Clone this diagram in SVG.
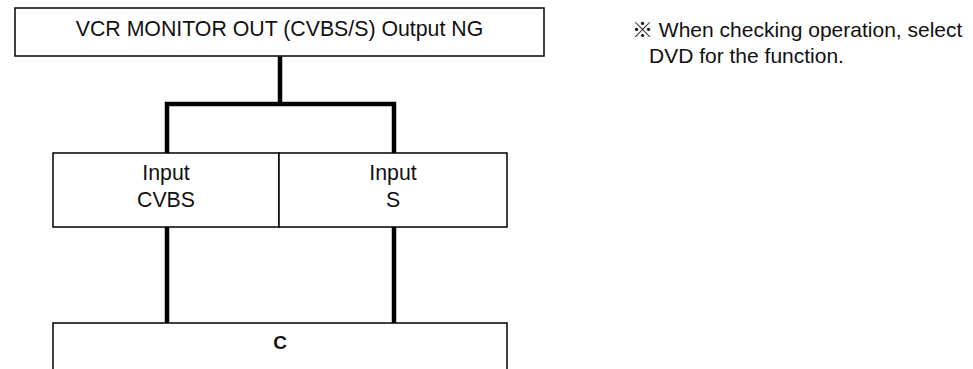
<svg xmlns="http://www.w3.org/2000/svg" width="973" height="369" viewBox="0 0 973 369">
<style>
.box{fill:#fff;stroke:#000;stroke-width:1.5}
.t{font-family:"Liberation Sans",Arial,"Noto Sans CJK JP",sans-serif;font-size:21.3px;fill:#111;text-anchor:middle}
.b{font-weight:bold;font-size:19px}
.note{font-family:"Liberation Sans",Arial,"Noto Sans CJK JP",sans-serif;font-size:21px;fill:#111}
.c{fill:none;stroke:#000;stroke-width:4.5;stroke-linecap:butt;stroke-linejoin:miter}
</style>
<rect width="973" height="369" fill="#fff"/>
<g id="connectors">
<path class="c" d="M280 56 V104 M167 153 V104 H394 V153"/>
<path class="c" d="M167 227 V323"/>
<path class="c" d="M394 227 V323"/>
</g>
<g id="top">
<rect class="box" x="15" y="8" width="529" height="48"/>
<text class="t" x="279.5" y="36">VCR MONITOR OUT (CVBS/S) Output NG</text>
</g>
<g id="input-cvbs">
<rect class="box" x="53" y="153" width="226" height="74"/>
<text class="t" x="166" y="180">Input</text>
<text class="t" x="166" y="207">CVBS</text>
</g>
<g id="input-s">
<rect class="box" x="279" y="153" width="228" height="74"/>
<text class="t" x="393" y="180">Input</text>
<text class="t" x="393" y="207">S</text>
</g>
<g id="c">
<rect class="box" x="53" y="323" width="454" height="60"/>
<text class="t b" x="280" y="349">C</text>
</g>
<g id="note">
<text class="note" x="632" y="37">※ When checking operation, select</text>
<text class="note" x="649" y="63">DVD for the function.</text>
</g>
</svg>
